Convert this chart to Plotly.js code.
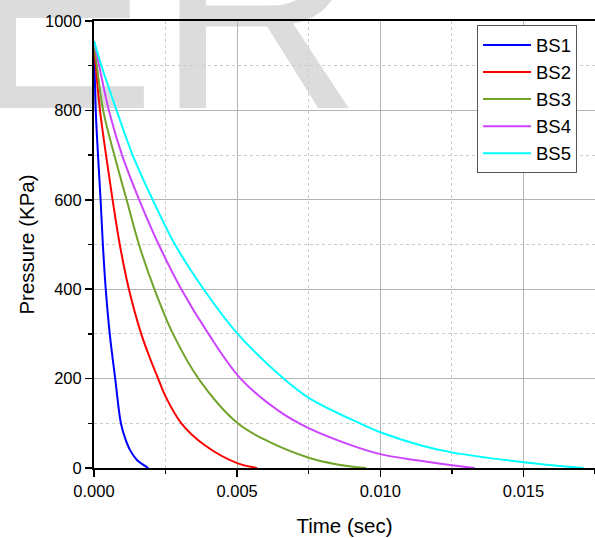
<!DOCTYPE html>
<html>
<head>
<meta charset="utf-8">
<script src="https://cdn.plot.ly/plotly-3.0.1.min.js"></script>
<style>html,body{margin:0;padding:0;background:#fff}#chart{width:595px;height:538px}</style>
</head>
<body>
<div id="chart"></div>
<script>
// Series names
const seriesNames = ["BS1", "BS2", "BS3", "BS4", "BS5"];

// Time (sec) and pressure (KPa) values
const bs1_t = [0, 0.00002, 0.00006, 0.00014, 0.00023, 0.00031, 0.00041, 0.00055, 0.00074, 0.00094, 0.00108, 0.00126, 0.0015, 0.0017, 0.0019];
const bs1_p = [955, 900, 800, 700, 600, 500, 400, 300, 200, 100, 68, 40, 18, 8, 0];

const bs2_t = [0, 0.00006, 0.00021, 0.00042, 0.00065, 0.0009, 0.00122, 0.00165, 0.00196, 0.00224, 0.0025, 0.00305, 0.00387, 0.005, 0.0057];
const bs2_p = [955, 900, 800, 700, 600, 500, 400, 300, 245, 200, 160, 100, 51, 11, 0];

const bs3_t = [0, 0.0001, 0.00032, 0.00071, 0.00114, 0.00157, 0.00211, 0.00276, 0.00365, 0.00502, 0.00607, 0.0075, 0.0085, 0.0095];
const bs3_p = [955, 900, 800, 700, 600, 500, 400, 300, 200, 100, 60, 23, 8, 0];

const bs4_t = [0, 0.00018, 0.00052, 0.00098, 0.00158, 0.00226, 0.00305, 0.004, 0.00512, 0.00649, 0.0075, 0.0088, 0.010, 0.0114, 0.0125, 0.0133];
const bs4_p = [955, 900, 800, 700, 600, 500, 400, 300, 200, 126, 89, 55, 31, 16, 6, 0];

const bs5_t = [0, 0.00026, 0.00079, 0.00135, 0.00205, 0.00283, 0.00383, 0.00502, 0.00655, 0.0075, 0.00928, 0.010, 0.0114, 0.0125, 0.015, 0.0171];
const bs5_p = [955, 900, 800, 700, 600, 500, 400, 300, 204, 157, 100, 80, 51, 35, 13, 0];

const xTickVals = [0, 0.005, 0.010, 0.015];
const yTickVals = [0, 200, 400, 600, 800, 1000];

const colors = ["#0000FF", "#FF0000", "#72A42C", "#CC44FF", "#00FFFF"];
const allT = [bs1_t, bs2_t, bs3_t, bs4_t, bs5_t];
const allP = [bs1_p, bs2_p, bs3_p, bs4_p, bs5_p];

const traces = seriesNames.map((name, i) => ({
  type: "scatter",
  mode: "lines",
  name: name,
  x: allT[i],
  y: allP[i],
  line: {color: colors[i], width: 2, shape: "spline", smoothing: 1},
  legendgroup: name
}));

const font = "Liberation Sans, Arial, sans-serif";

const layout = {
  width: 595,
  height: 538,
  margin: {l: 94, r: 0, t: 21, b: 70},
  paper_bgcolor: "#ffffff",
  plot_bgcolor: "rgba(0,0,0,0)",
  font: {family: font, color: "#000"},
  showlegend: true,
  legend: {
    x: 0.7645, y: 0.99, xanchor: "left", yanchor: "top",
    bgcolor: "#ffffff", bordercolor: "#555555", borderwidth: 1,
    font: {family: font, size: 18.5, color: "#000"},
    tracegroupgap: 0,
    itemwidth: 48
  },
  xaxis: {
    range: [0, 0.0175],
    tickvals: xTickVals,
    tickformat: ".3f",
    ticks: "outside", ticklen: 7, tickwidth: 1.5, tickcolor: "#000",
    showline: true, linecolor: "#000", linewidth: 2, mirror: true,
    showgrid: true, gridcolor: "#b4b4b4", gridwidth: 1,
    zeroline: false,
    tickfont: {family: font, size: 16.5, color: "#000"},
    minor: {dtick: 0.0025, tick0: 0, ticks: "outside", ticklen: 4, tickcolor: "#000", tickwidth: 1.5,
            showgrid: true, gridcolor: "#cccccc", gridwidth: 1, griddash: "dot"},
    title: {text: "Time (sec)", font: {family: font, size: 20.5, color: "#000"}, standoff: 20}
  },
  yaxis: {
    range: [0, 1000],
    tickvals: yTickVals,
    ticks: "outside", ticklen: 7, tickwidth: 1.5, tickcolor: "#000",
    showline: true, linecolor: "#000", linewidth: 2,
    showgrid: true, gridcolor: "#b4b4b4", gridwidth: 1,
    zeroline: false,
    tickfont: {family: font, size: 16.5, color: "#000"},
    minor: {dtick: 100, tick0: 0, ticks: "outside", ticklen: 4, tickcolor: "#000", tickwidth: 1.5,
            showgrid: true, gridcolor: "#cccccc", gridwidth: 1, griddash: "dot"},
    title: {text: "Pressure (KPa)", font: {family: font, size: 20.5, color: "#000"}, standoff: 5}
  },
  annotations: [{
    text: "ER", xref: "paper", yref: "paper",
    x: -0.2595, y: 0.6667, xanchor: "left", yanchor: "bottom",
    showarrow: false,
    font: {family: font, size: 285, color: "#dcdcdc"}
  }]
};

const gd = document.getElementById("chart");
Plotly.newPlot(gd, traces, layout, {displayModeBar: false, staticPlot: true}).then(() => {
  // put the watermark behind the grid and curves
  const ann = gd.querySelector(".infolayer .annotation");
  const bg = gd.querySelector(".main-svg .bglayer");
  if (ann && bg) bg.parentNode.insertBefore(ann, bg.nextSibling);
});
</script>
</body>
</html>
